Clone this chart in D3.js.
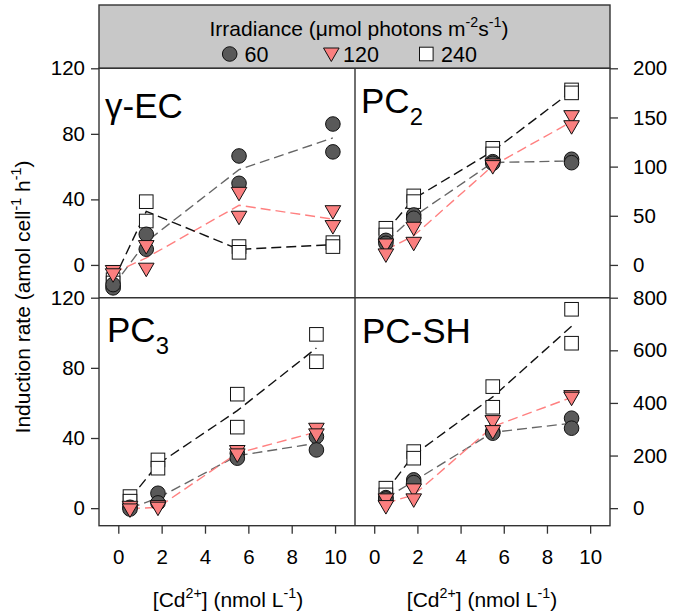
<!DOCTYPE html>
<html>
<head>
<meta charset="utf-8">
<script src="https://cdn.jsdelivr.net/npm/d3@7"></script>
<style>
  html, body { margin: 0; padding: 0; background: #fff; }
  svg { display: block; }
</style>
</head>
<body>
<svg id="chart" width="675" height="616"></svg>
<script>
// ---------------- data ----------------
const seriesNames = ["60", "120", "240"];
const xTicks = [0, 2, 4, 6, 8, 10];
const yTicksTopLeft = [0, 40, 80, 120];
const yTicksTopRight = [0, 50, 100, 150, 200];
const yTicksBottomLeft = [0, 40, 80, 120];
const yTicksBottomRight = [0, 200, 400, 600, 800];

const conc_gEC = [-0.24, 1.29, 5.57, 9.9];
const conc_PC = [0.54, 1.83, 5.49, 9.14];

// gamma-EC (amol cell-1 h-1) — duplicates per concentration
const gEC_60 = [[-14, -12], [18.7, 9.6], [66.5, 49.8], [86, 69]];
const gEC_120 = [[-4, -6], [11.2, -2.6], [43.7, 29.1], [32.5, 23.4]];
const gEC_240 = [[-9, -11], [38.6, 26.8], [11.2, 7.7], [13.6, 11.2]];

// PC2
const pc2_60 = [[25, 22], [50.8, 47.5], [105, 103.4], [107.5, 104]];
const pc2_120 = [[20.3, 10.2], [37.3, 22], [101.7, 100], [150.8, 140.6]];
const pc2_240 = [[37.3, 30.5], [70.2, 64.4], [118.6, 112.9], [178, 175]];

// PC3
const pc3_60 = [[0.5, -0.5], [8.5, 3], [31.3, 28.5], [40.8, 33.2]];
const pc3_120 = [[0.5, -1], [0.9, 0], [32.3, 30.4], [45, 41.8]];
const pc3_240 = [[6.6, 4], [27.5, 22.8], [65, 46.2], [99.1, 83.5]];

// PC-SH
const pcsh_60 = [[40, 35], [107.5, 97], [291, 285], [342, 304]];
const pcsh_120 = [[31.5, 6], [69.5, 31.5], [329, 291], [424, 418]];
const pcsh_240 = [[76, 50.5], [215, 190], [462, 383.6], [756, 627]];

// ---------------- layout & style ----------------
const FONT = "'Liberation Sans', Arial, Helvetica, sans-serif";
const L = 99, M = 355, R = 610, T = 68.3, MID = 297.7, B = 525.7;
const xDomain = [-0.89, 10.92];
const FRAME = "#333";
const styles = {
  "60": { fill: "#595959", line: "#666666", shape: "circle" },
  "120": { fill: "#fa7f7f", line: "#ff8080", shape: "tri" },
  "240": { fill: "#ffffff", line: "#111111", shape: "square" }
};

const panels = [
  { label: [["γ-EC", "n"]], x0: L, x1: M, y0: T, y1: MID, yDomain: [-20, 120], conc: conc_gEC,
    data: { "60": gEC_60, "120": gEC_120, "240": gEC_240 }, side: "left", ticks: yTicksTopLeft, bottom: false,
    lx: 105, ly: 118 },
  { label: [["PC", "n"], ["2", "sub"]], x0: M, x1: R, y0: T, y1: MID, yDomain: [-200 / 6, 200], conc: conc_PC,
    data: { "60": pc2_60, "120": pc2_120, "240": pc2_240 }, side: "right", ticks: yTicksTopRight, bottom: false,
    lx: 361, ly: 113 },
  { label: [["PC", "n"], ["3", "sub"]], x0: L, x1: M, y0: MID, y1: B, yDomain: [-10, 120], conc: conc_PC,
    data: { "60": pc3_60, "120": pc3_120, "240": pc3_240 }, side: "left", ticks: yTicksBottomLeft, bottom: true,
    lx: 107, ly: 342 },
  { label: [["PC-SH", "n"]], x0: M, x1: R, y0: MID, y1: B, yDomain: [-800 / 12, 800], conc: conc_PC,
    data: { "60": pcsh_60, "120": pcsh_120, "240": pcsh_240 }, side: "right", ticks: yTicksBottomRight, bottom: true,
    lx: 362, ly: 343 }
];

const svg = d3.select("#chart").style("font-family", FONT);

function richText(sel, parts, size) {
  let shift = 0;
  parts.forEach(([txt, kind]) => {
    const t = sel.append("tspan").text(txt);
    let target = 0, fs = size;
    if (kind === "sup") { target = -size * 0.42; fs = size * 0.68; }
    if (kind === "sub") { target = size * 0.33; fs = size * 0.68; }
    t.attr("dy", target - shift).attr("font-size", fs);
    shift = target;
  });
  return sel;
}

function drawMarker(g, shape, fill, x, y) {
  if (shape === "circle") {
    g.append("circle").attr("cx", x).attr("cy", y).attr("r", 7.3)
      .attr("fill", fill).attr("stroke", "#111").attr("stroke-width", 1);
  } else if (shape === "tri") {
    g.append("path").attr("d", `M${x - 7.8},${y - 6}L${x + 7.8},${y - 6}L${x},${y + 7.5}Z`)
      .attr("fill", fill).attr("stroke", "#111").attr("stroke-width", 1);
  } else {
    g.append("rect").attr("x", x - 6.8).attr("y", y - 6.8).attr("width", 13.6).attr("height", 13.6)
      .attr("fill", fill).attr("stroke", "#111").attr("stroke-width", 1);
  }
}

// ---------------- legend box ----------------
svg.append("rect").attr("x", L).attr("y", 5).attr("width", R - L).attr("height", T - 5)
  .attr("fill", "#c8c8c8").attr("stroke", FRAME).attr("stroke-width", 1.4);
richText(svg.append("text").attr("x", 359).attr("y", 36).attr("text-anchor", "middle").attr("font-size", 21),
  [["Irradiance (μmol photons m", "n"], ["-2", "sup"], ["s", "n"], ["-1", "sup"], [")", "n"]], 21);
const legendPos = { "60": [229.7, 244.5], "120": [331.3, 343], "240": [426.3, 441] };
seriesNames.forEach(s => {
  const [mx, tx] = legendPos[s];
  drawMarker(svg.append("g"), styles[s].shape, styles[s].fill, mx, 54);
  svg.append("text").attr("x", tx).attr("y", 62).attr("font-size", 21.5).text(s);
});

// ---------------- panels ----------------
panels.forEach(p => {
  const x = d3.scaleLinear().domain(xDomain).range([p.x0, p.x1]);
  const y = d3.scaleLinear().domain(p.yDomain).range([p.y1, p.y0]);
  const g = svg.append("g");

  g.append("rect").attr("x", p.x0).attr("y", p.y0).attr("width", p.x1 - p.x0).attr("height", p.y1 - p.y0)
    .attr("fill", "#fff").attr("stroke", "none");

  // dashed lines through the mean of the duplicates
  const lineGen = d3.line().x(d => x(d[0])).y(d => y(d[1]));
  ["60", "120", "240"].forEach(s => {
    const means = p.conc.map((c, i) => [c, d3.mean(p.data[s][i])]);
    g.append("path").attr("d", lineGen(means)).attr("fill", "none")
      .attr("stroke", styles[s].line).attr("stroke-width", 1.4).attr("stroke-dasharray", "10,5");
  });

  // markers
  ["240", "60", "120"].forEach(s => {
    p.conc.forEach((c, i) => {
      p.data[s][i].forEach(v => drawMarker(g, styles[s].shape, styles[s].fill, x(c), y(v)));
    });
  });

  // panel label
  richText(g.append("text").attr("x", p.lx).attr("y", p.ly).attr("font-size", 35), p.label, 35);

  // y axis
  if (p.side === "left") {
    const ax = svg.append("g").attr("transform", `translate(${p.x0},0)`)
      .call(d3.axisLeft(y).tickValues(p.ticks).tickSize(8).tickPadding(6));
    styleAxis(ax, 20.5);
  } else {
    const ax = svg.append("g").attr("transform", `translate(${p.x1},0)`)
      .call(d3.axisRight(y).tickValues(p.ticks).tickSize(8).tickPadding(15));
    styleAxis(ax, 20.5);
  }
  // x axis ticks at bottom of each panel
  const xa = svg.append("g").attr("transform", `translate(0,${p.y1})`)
    .call(d3.axisBottom(x).tickValues(xTicks).tickSize(8).tickPadding(16)
      .tickFormat(p.bottom ? d3.format("d") : () => ""));
  styleAxis(xa, 20.5);
});

function styleAxis(ax, fs) {
  ax.select(".domain").remove();
  ax.selectAll(".tick line").attr("stroke", FRAME).attr("stroke-width", 1.3);
  ax.selectAll(".tick text").attr("fill", "#000").attr("font-size", fs).attr("font-family", FONT);
}

// frames on top
svg.append("rect").attr("x", L).attr("y", T).attr("width", R - L).attr("height", B - T)
  .attr("fill", "none").attr("stroke", FRAME).attr("stroke-width", 1.4);
svg.append("line").attr("x1", M).attr("x2", M).attr("y1", T).attr("y2", B).attr("stroke", FRAME).attr("stroke-width", 1.4);
svg.append("line").attr("x1", L).attr("x2", R).attr("y1", MID).attr("y2", MID).attr("stroke", FRAME).attr("stroke-width", 1.4);

// axis titles
[228, 482].forEach(cx => {
  richText(svg.append("text").attr("x", cx).attr("y", 607).attr("text-anchor", "middle").attr("font-size", 21),
    [["[Cd", "n"], ["2+", "sup"], ["] (nmol L", "n"], ["-1", "sup"], [")", "n"]], 21);
});
richText(svg.append("text").attr("transform", "translate(30,297) rotate(-90)").attr("text-anchor", "middle").attr("font-size", 21),
  [["Induction rate (amol cell", "n"], ["-1", "sup"], [" h", "n"], ["-1", "sup"], [")", "n"]], 21);
</script>
</body>
</html>
